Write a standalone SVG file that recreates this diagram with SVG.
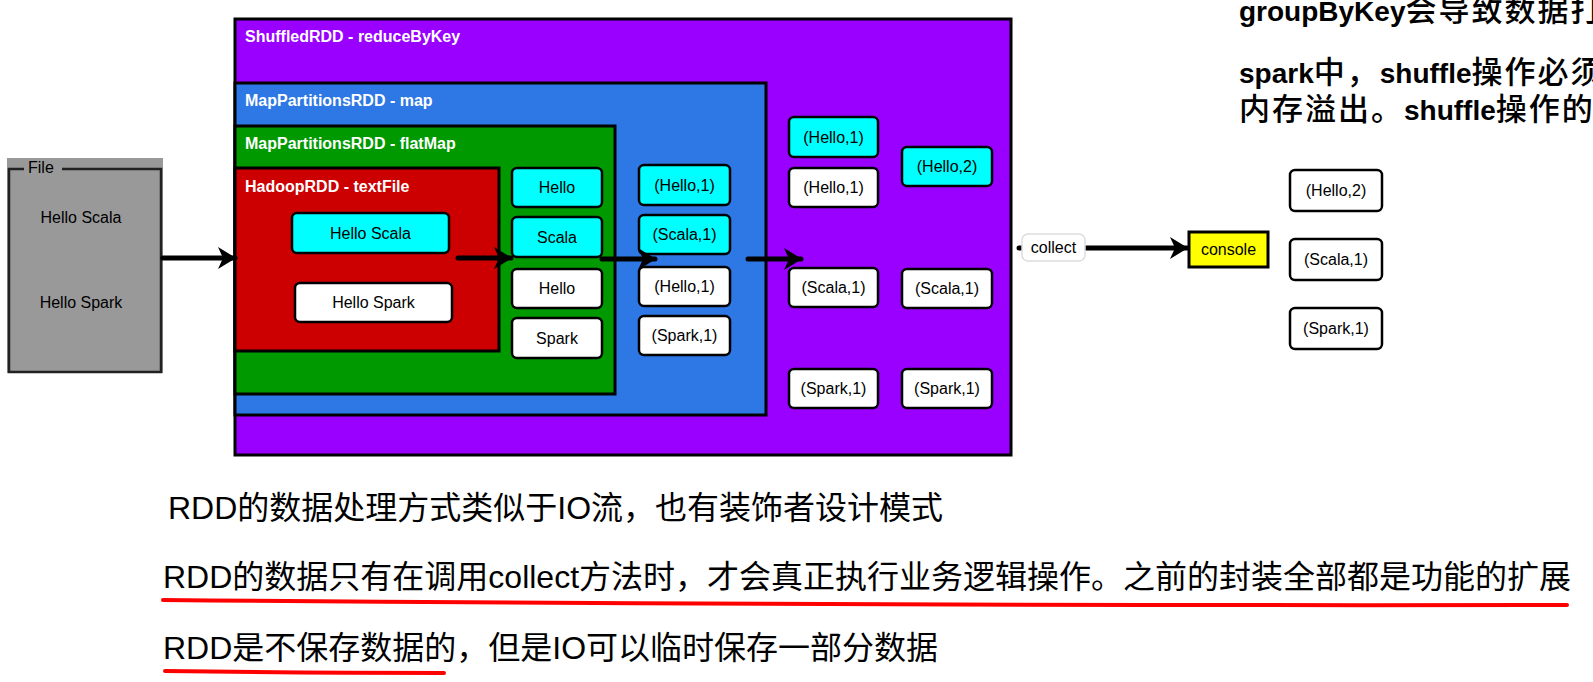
<svg xmlns="http://www.w3.org/2000/svg" width="1593" height="682" viewBox="0 0 1593 682">
<defs>
<style>
.lbl{font-family:"Liberation Sans",Arial,sans-serif;font-size:16px;font-weight:bold;fill:#fff}
.t{font-family:"Liberation Sans",Arial,sans-serif;font-size:16px;fill:#000;text-anchor:middle}
.cont{stroke:#000;stroke-width:3}
.box{stroke:#000;stroke-width:2.5}
.cy{fill:#00FFFF}
.wh{fill:#fff}
.arr{stroke:#000;stroke-width:5;fill:none;stroke-linecap:round}
.big{font-family:"Liberation Sans","Noto Sans CJK SC",sans-serif;fill:#000}
.lat{font-size:28px;font-weight:bold}
.cjk{font-family:"Noto Sans CJK SC",sans-serif;font-size:31px;font-weight:500;letter-spacing:2px}
.note{font-family:"Liberation Sans","Noto Sans CJK SC",sans-serif;font-size:32px;fill:#000}
.ul{stroke:#FF0000;stroke-width:4;fill:none;stroke-linecap:round}
</style>
<marker id="ah" markerUnits="userSpaceOnUse" markerWidth="22" markerHeight="24" refX="17" refY="11" orient="auto">
<path d="M0,0 L18,11 L0,22 L5,11 Z" fill="#000"/>
</marker>
</defs>
<rect width="1593" height="682" fill="#fff"/>

<g id="file">
<rect x="7" y="158" width="156" height="215" fill="#999999"/>
<path d="M24,169 H9 V372 H161 V169 H62" fill="none" stroke="#222" stroke-width="2.5"/>
<text x="28" y="173" class="t" style="text-anchor:start">File</text>
<text x="81" y="223" class="t">Hello Scala</text>
<text x="81" y="308" class="t">Hello Spark</text>
</g>

<g id="shuffled">
<rect x="235" y="19" width="776" height="436" fill="#9900FF" class="cont"/>
<text x="245" y="42" class="lbl">ShuffledRDD - reduceByKey</text>
</g>
<g id="map">
<rect x="235" y="83" width="531" height="332" fill="#2D78E4" class="cont"/>
<text x="245" y="106" class="lbl">MapPartitionsRDD - map</text>
</g>
<g id="flatmap">
<rect x="235" y="126" width="380" height="268" fill="#009900" class="cont"/>
<text x="245" y="149" class="lbl">MapPartitionsRDD - flatMap</text>
</g>
<g id="hadoop">
<rect x="235" y="168" width="264" height="183" fill="#CC0000" class="cont"/>
<text x="245" y="192" class="lbl">HadoopRDD - textFile</text>
</g>

<g id="line1">
<rect x="292" y="213" width="157" height="40" rx="5" class="box cy"/>
<text x="370.5" y="239" class="t">Hello Scala</text>
</g>
<g id="line2">
<rect x="295" y="283" width="157" height="39" rx="5" class="box wh"/>
<text x="373.5" y="308" class="t">Hello Spark</text>
</g>

<g id="w1"><rect x="512" y="168" width="90" height="39" rx="5" class="box cy"/><text x="557" y="193" class="t">Hello</text></g>
<g id="w2"><rect x="512" y="217" width="90" height="40" rx="5" class="box cy"/><text x="557" y="243" class="t">Scala</text></g>
<g id="w3"><rect x="512" y="269" width="90" height="39" rx="5" class="box wh"/><text x="557" y="294" class="t">Hello</text></g>
<g id="w4"><rect x="512" y="318" width="90" height="40" rx="5" class="box wh"/><text x="557" y="344" class="t">Spark</text></g>

<g id="m1"><rect x="639" y="165" width="91" height="40" rx="5" class="box cy"/><text x="684.5" y="191" class="t">(Hello,1)</text></g>
<g id="m2"><rect x="639" y="215" width="91" height="39" rx="5" class="box cy"/><text x="684.5" y="240" class="t">(Scala,1)</text></g>
<g id="m3"><rect x="639" y="267" width="91" height="39" rx="5" class="box wh"/><text x="684.5" y="292" class="t">(Hello,1)</text></g>
<g id="m4"><rect x="639" y="316" width="91" height="39" rx="5" class="box wh"/><text x="684.5" y="341" class="t">(Spark,1)</text></g>

<g id="s1"><rect x="789" y="117" width="89" height="40" rx="5" class="box cy"/><text x="833.5" y="143" class="t">(Hello,1)</text></g>
<g id="s2"><rect x="789" y="168" width="89" height="39" rx="5" class="box wh"/><text x="833.5" y="193" class="t">(Hello,1)</text></g>
<g id="s3"><rect x="789" y="268" width="89" height="39" rx="5" class="box wh"/><text x="833.5" y="293" class="t">(Scala,1)</text></g>
<g id="s4"><rect x="789" y="369" width="89" height="39" rx="5" class="box wh"/><text x="833.5" y="394" class="t">(Spark,1)</text></g>

<g id="r1"><rect x="902" y="147" width="90" height="39" rx="5" class="box cy"/><text x="947" y="172" class="t">(Hello,2)</text></g>
<g id="r2"><rect x="902" y="269" width="90" height="39" rx="5" class="box wh"/><text x="947" y="294" class="t">(Scala,1)</text></g>
<g id="r3"><rect x="902" y="369" width="90" height="39" rx="5" class="box wh"/><text x="947" y="394" class="t">(Spark,1)</text></g>

<g id="connectors">
<line x1="163" y1="258" x2="235" y2="258" class="arr" marker-end="url(#ah)"/>
<line x1="458" y1="258" x2="511" y2="258" class="arr" marker-end="url(#ah)"/>
<line x1="602" y1="259" x2="655" y2="259" class="arr" marker-end="url(#ah)"/>
<line x1="748" y1="259" x2="801" y2="259" class="arr" marker-end="url(#ah)"/>
<line x1="1019" y1="248" x2="1187" y2="248" class="arr" marker-end="url(#ah)"/>
<g id="collect-label">
<rect x="1022" y="234" width="63" height="27" rx="6" fill="#fff" stroke="#ddd" stroke-width="1.5"/>
<text x="1053.5" y="253" class="t">collect</text>
</g>
</g>

<g id="console">
<rect x="1189" y="232" width="79" height="35" fill="#FFFF00" stroke="#000" stroke-width="3"/>
<text x="1228.5" y="255" class="t">console</text>
</g>

<g id="o1"><rect x="1290" y="170" width="92" height="41" rx="5" class="box wh"/><text x="1336" y="196" class="t">(Hello,2)</text></g>
<g id="o2"><rect x="1290" y="239" width="92" height="41" rx="5" class="box wh"/><text x="1336" y="265" class="t">(Scala,1)</text></g>
<g id="o3"><rect x="1290" y="308" width="92" height="41" rx="5" class="box wh"/><text x="1336" y="334" class="t">(Spark,1)</text></g>

<g id="notes-top">
<text x="1239" y="21" class="big"><tspan class="lat">groupByKey</tspan><tspan class="cjk">会导致数据打</tspan></text>
<text x="1239" y="83" class="big"><tspan class="lat">spark</tspan><tspan class="cjk">中，</tspan><tspan class="lat">shuffle</tspan><tspan class="cjk">操作必须</tspan></text>
<text x="1239" y="120" class="big"><tspan class="cjk">内存溢出。</tspan><tspan class="lat">shuffle</tspan><tspan class="cjk">操作的性</tspan></text>
</g>

<g id="notes-bottom">
<text x="168" y="519" class="note">RDD的数据处理方式类似于IO流，也有装饰者设计模式</text>
<text x="163" y="588" class="note">RDD的数据只有在调用collect方法时，才会真正执行业务逻辑操作。之前的封装全部都是功能的扩展</text>
<path d="M163,600 Q860,606 1567,605" class="ul"/>
<text x="163" y="659" class="note">RDD是不保存数据的，但是IO可以临时保存一部分数据</text>
<path d="M165,671 Q300,673 444,673" class="ul"/>
</g>
</svg>
